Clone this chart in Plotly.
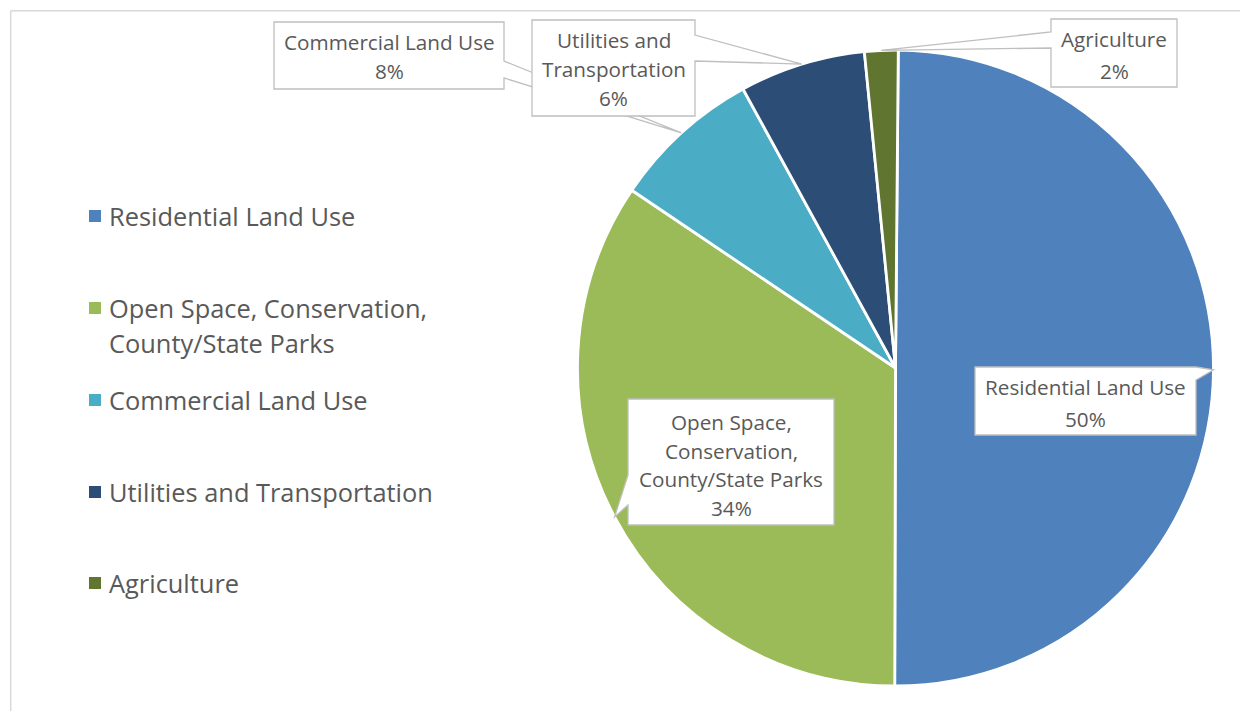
import math
import plotly.graph_objects as go

# ---- data ----
categories = ["Residential Land Use",
              "Open Space, Conservation, County/State Parks",
              "Commercial Land Use",
              "Utilities and Transportation",
              "Agriculture"]
shares = [49.9, 34.4, 7.6, 6.4, 1.7]
legend_lines = [["Residential Land Use"],
                ["Open Space, Conservation,", "County/State Parks"],
                ["Commercial Land Use"],
                ["Utilities and Transportation"],
                ["Agriculture"]]
callout_lines = [["Residential Land Use"],
                 ["Open Space,", "Conservation,", "County/State Parks"],
                 ["Commercial Land Use"],
                 ["Utilities and", "Transportation"],
                 ["Agriculture"]]
colors = ["#4F81BD", "#9BBB59", "#4BACC6", "#2C4D75", "#5F7530"]

# ---- layout geometry (pixels, in screenshot coordinates) ----
OFF = 8  # page body margin
W, H = 1248 - 2 * OFF, 719 - 2 * OFF  # figure size that fits the window without scrollbars
CX, CY, R = 895.5, 368.0, 318.0
ROT = 0.5
TXT = "#595959"
FONT = "Open Sans"


def px(x):
    return (x - OFF) / W


def py(y):
    return 1 - (y - OFF) / H


fig = go.Figure()
fig.add_trace(go.Pie(
    labels=categories, values=shares, sort=False, direction="clockwise",
    rotation=ROT, textinfo="none", showlegend=False, hoverinfo="label+percent",
    marker=dict(colors=colors, line=dict(color="white", width=2.8)),
    domain=dict(x=[px(CX - R), px(CX + R)], y=[py(CY + R), py(CY - R)]),
))

total = sum(shares)
tips = []
cum = 0.0
for v in shares:
    m = (cum + v / 2) / total
    th = math.radians(ROT + 360 * m)
    tips.append((CX + R * math.sin(th), CY - R * math.cos(th)))
    cum += v
pcts = [f"{round(v / total * 100)}%" for v in shares]

# callout boxes: (x0, y0, x1, y1, side, base0, base1, line centres)
boxes = {
    0: (975, 367, 1196, 435, "right", 367, 380, [387, 419]),
    1: (628, 399, 834, 525, "left", 475, 505, [422, 451, 479, 508]),
    2: (274, 22, 504, 89, "right", 61, 78, [42, 71]),
    3: (532, 20, 695, 116, "right", 35, 61, [40, 69.5, 98]),
    4: (1051, 19, 1177, 87, "left", 32, 48, [39.5, 70.5]),
}

shapes = []
# chart frame
shapes.append(dict(type="line", xref="paper", yref="paper", x0=px(10.7), y0=py(10.7),
                   x1=px(1260), y1=py(10.7), line=dict(color="#d9d9d9", width=1.5)))
shapes.append(dict(type="line", xref="paper", yref="paper", x0=px(10.7), y0=py(10.7),
                   x1=px(10.7), y1=py(730), line=dict(color="#d9d9d9", width=1.5)))

annotations = []
for i in [0, 1, 2, 3, 4]:
    x0, y0, x1, y1, side, b0, b1, ys = boxes[i]
    tx, ty = tips[i]
    if side == "right":
        pts = [(x0, y0), (x1, y0), (x1, b0), (tx, ty), (x1, b1), (x1, y1), (x0, y1)]
    else:
        pts = [(x0, y0), (x1, y0), (x1, y1), (x0, y1), (x0, b1), (tx, ty), (x0, b0)]
    path = "M " + " L ".join(f"{px(a):.5f},{py(b):.5f}" for a, b in pts) + " Z"
    shapes.append(dict(type="path", xref="paper", yref="paper", path=path,
                       fillcolor="white", line=dict(color="#bfbfbf", width=1.3),
                       layer="above"))
    lines = callout_lines[i] + [pcts[i]]
    for t, yy in zip(lines, ys):
        annotations.append(dict(x=px((x0 + x1) / 2), y=py(yy), xref="paper", yref="paper",
                                text=t, showarrow=False, xanchor="center", yanchor="middle",
                                font=dict(family=FONT, size=20.7, color=TXT)))

# legend (drawn manually for exact spacing)
leg_y = [216, 308, 400, 492, 583]
for i, lines in enumerate(legend_lines):
    y = leg_y[i]
    shapes.append(dict(type="rect", xref="paper", yref="paper",
                       x0=px(89), x1=px(101), y0=py(y - 6), y1=py(y + 6),
                       fillcolor=colors[i], line=dict(width=0)))
    for j, t in enumerate(lines):
        annotations.append(dict(x=px(107), y=py(y + 35 * j), xref="paper", yref="paper",
                                text=t, showarrow=False, xanchor="left", yanchor="middle",
                                font=dict(family=FONT, size=25.4, color=TXT)))

fig.update_layout(
    width=W, height=H, margin=dict(l=0, r=0, t=0, b=0),
    paper_bgcolor="white", plot_bgcolor="white",
    shapes=shapes, annotations=annotations, showlegend=False,
)
fig.write_html("out.html")
